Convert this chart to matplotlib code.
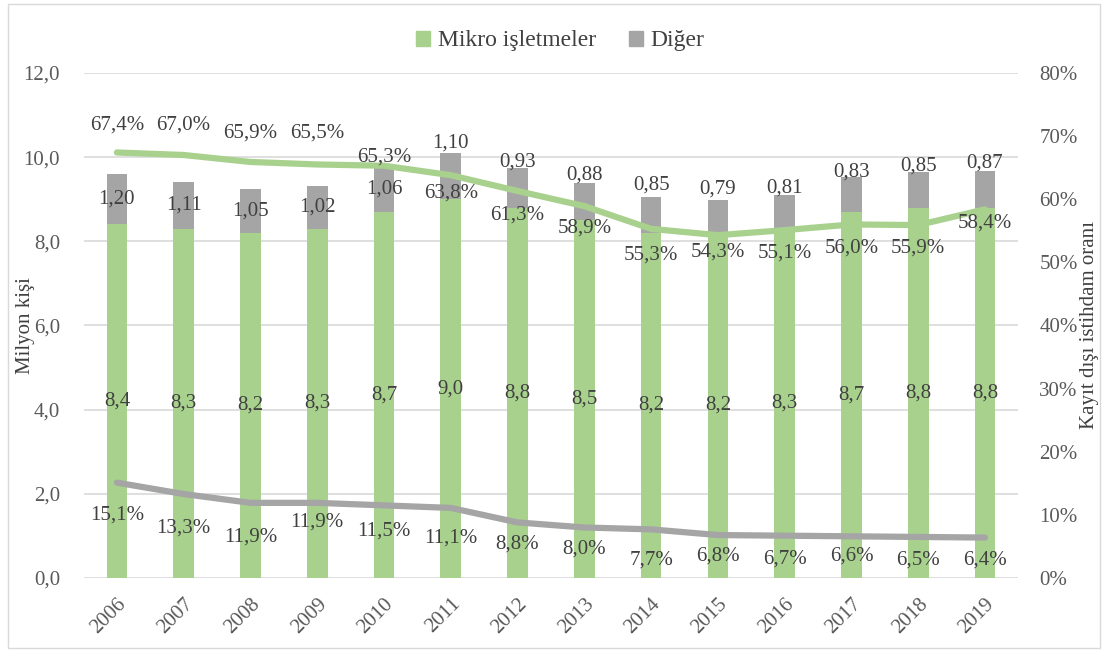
import matplotlib.pyplot as plt
from matplotlib.patches import Rectangle, Patch

plt.rcParams['font.family'] = ['Liberation Serif', 'DejaVu Serif']

years = ['2006', '2007', '2008', '2009', '2010', '2011', '2012',
         '2013', '2014', '2015', '2016', '2017', '2018', '2019']
mikro = [8.4, 8.3, 8.2, 8.3, 8.7, 9.0, 8.8, 8.5, 8.2, 8.2, 8.3, 8.7, 8.8, 8.8]
diger = [1.20, 1.11, 1.05, 1.02, 1.06, 1.10, 0.93, 0.88, 0.85, 0.79, 0.81, 0.83, 0.85, 0.87]
oran_mikro = [67.4, 67.0, 65.9, 65.5, 65.3, 63.8, 61.3, 58.9, 55.3, 54.3, 55.1, 56.0, 55.9, 58.4]
oran_diger = [15.1, 13.3, 11.9, 11.9, 11.5, 11.1, 8.8, 8.0, 7.7, 6.8, 6.7, 6.6, 6.5, 6.4]

# label offsets in pixels (positive = downwards)
g_off = [-27, -30, -29, -31, -9, 18, 24, 22, 26, 17, 23, 24, 23, 14]
k_off = [32, 34, 34, 19, 26, 30, 22, 22, 31, 21, 23, 20, 23, 22]
d_top_off = [None, None, None, None, None, -10, -6, -8, -12, -11, -7, -5, -6, -8]

GREEN = '#A9D18E'
GRAY = '#A5A5A5'
TXT = '#404040'
TICK = '#595959'
FS = 15

fig = plt.figure(figsize=(11.09, 6.5), dpi=100)
ax = fig.add_axes([0.0753, 0.1108, 0.843, 0.777])
ax2 = ax.twinx()

x = list(range(len(years)))
ax.bar(x, mikro, width=0.31, color=GREEN, zorder=2)
ax.bar(x, diger, width=0.31, bottom=mikro, color=GRAY, zorder=2)

ax2.plot(x, oran_mikro, color=GREEN, lw=4.5, solid_capstyle='round', solid_joinstyle='round')
ax2.plot(x, oran_diger, color=GRAY, lw=4.5, solid_capstyle='round', solid_joinstyle='round')

ax.set_xlim(-0.5, len(years) - 0.5)
ax.set_ylim(0, 12)
ax2.set_ylim(0, 80)
ax.set_yticks([0, 2, 4, 6, 8, 10, 12])
ax.set_yticklabels([f'{v:.1f}'.replace('.', ',') for v in range(0, 13, 2)])
ax2.set_yticks(range(0, 81, 10))
ax2.set_yticklabels([f'{v}%' for v in range(0, 81, 10)])

ax.grid(axis='y', color='#D9D9D9', lw=1.2, zorder=0)
ax.set_axisbelow(True)
for a in (ax, ax2):
    for s in a.spines.values():
        s.set_visible(False)
    a.tick_params(length=0, labelsize=FS, labelcolor=TICK)
ax.tick_params(axis='y', pad=17)
ax2.tick_params(axis='y', pad=15)

ax.set_xticks(x)
ax.set_xticklabels(years, rotation=45, ha='right', va='top', rotation_mode='anchor')
ax.tick_params(axis='x', pad=12)

ax.set_ylabel('Milyon kişi', fontsize=FS, color=TXT)
ax2.set_ylabel('Kayıt dışı istihdam oranı', fontsize=FS, color=TXT)
ax.yaxis.set_label_coords(-0.052, 0.5)
ax2.yaxis.set_label_coords(1.066, 0.5)

# labels
for i in x:
    ax2.annotate(f'{mikro[i]:.1f}'.replace('.', ','), (i, mikro[i] / 2), xycoords=ax.transData,
                 ha='center', va='center', fontsize=FS, color=TXT)
    if d_top_off[i] is None:
        ax2.annotate(f'{diger[i]:.2f}'.replace('.', ','), (i, mikro[i] + diger[i] / 2),
                     xycoords=ax.transData, ha='center', va='center', fontsize=FS, color=TXT)
    else:
        ax2.annotate(f'{diger[i]:.2f}'.replace('.', ','), (i, mikro[i] + diger[i]),
                     xycoords=ax.transData, xytext=(0, -d_top_off[i]), textcoords='offset pixels',
                     ha='center', va='center', fontsize=FS, color=TXT)
    ax2.annotate(f'{oran_mikro[i]:.1f}%'.replace('.', ','), (i, oran_mikro[i]),
                 xytext=(0, -g_off[i]), textcoords='offset pixels',
                 ha='center', va='center', fontsize=FS, color=TXT)
    ax2.annotate(f'{oran_diger[i]:.1f}%'.replace('.', ','), (i, oran_diger[i]),
                 xytext=(0, -k_off[i]), textcoords='offset pixels',
                 ha='center', va='center', fontsize=FS, color=TXT)

handles = [Patch(color=GREEN, label='Mikro işletmeler'), Patch(color=GRAY, label='Diğer')]
fig.legend(handles=handles, loc='center', bbox_to_anchor=(0.505, 0.937), ncol=2, frameon=False,
           fontsize=17, handlelength=0.6, handleheight=0.6, handletextpad=0.3, columnspacing=1.4,
           labelcolor=TXT)

fig.patches.append(Rectangle((8 / 1109, 2 / 650), 1092 / 1109, 644 / 650, transform=fig.transFigure,
                             fill=False, edgecolor='#D9D9D9', lw=1))

fig.savefig('out.png', dpi=100)
